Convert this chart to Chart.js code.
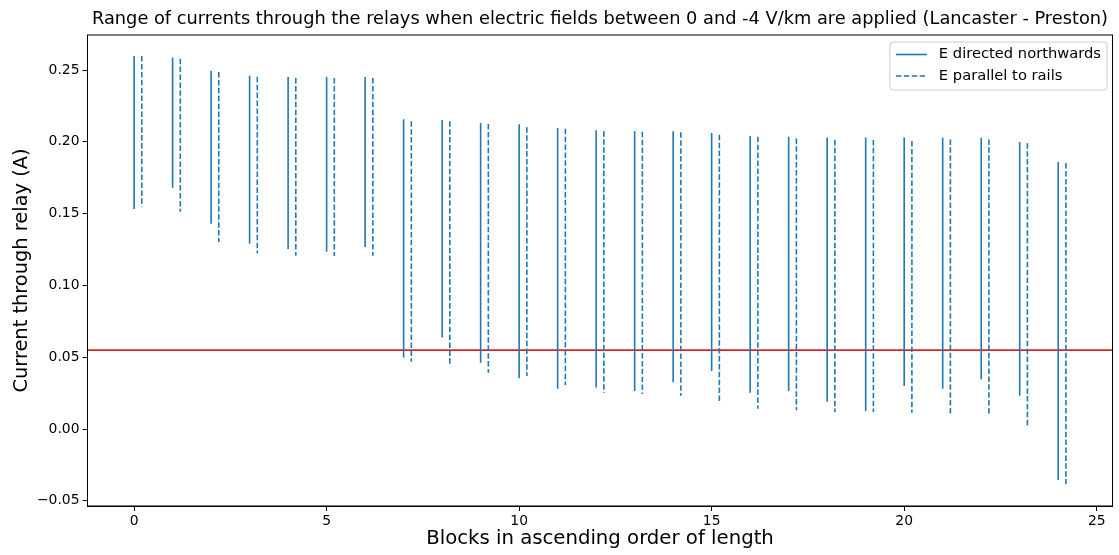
<!DOCTYPE html>
<html>
<head>
<meta charset="utf-8">
<script src="https://cdn.jsdelivr.net/npm/chart.js@4"></script>
<style>
  body { margin: 0; background: #fff; }
  canvas { display: block; }
</style>
</head>
<body>
<canvas id="relayChart" width="1119" height="555"></canvas>
<script>
// blocks sorted by length, current range (A) for each field direction
const blocks = [0, 1, 2, 3, 4, 5, 6, 7, 8, 9, 10, 11, 12, 13, 14, 15, 16, 17, 18, 19, 20, 21, 22, 23, 24];
const northHigh = [0.2597, 0.2588, 0.2495, 0.2460, 0.2451, 0.2451, 0.2451, 0.2157, 0.2152, 0.2131, 0.2122, 0.2096, 0.2080,
                   0.2075, 0.2073, 0.2061, 0.2040, 0.2035, 0.2031, 0.2031, 0.2031, 0.2029, 0.2029, 0.1999, 0.1859];
const northLow  = [0.1532, 0.1680, 0.1430, 0.1290, 0.1253, 0.1235, 0.1267, 0.0499, 0.0638, 0.0462, 0.0353, 0.0281, 0.0290,
                   0.0265, 0.0325, 0.0404, 0.0253, 0.0265, 0.0190, 0.0125, 0.0299, 0.0281, 0.0346, 0.0232, -0.0355];
const railHigh  = [0.2597, 0.2579, 0.2486, 0.2453, 0.2444, 0.2444, 0.2444, 0.2143, 0.2143, 0.2124, 0.2101, 0.2091, 0.2073,
                   0.2070, 0.2066, 0.2049, 0.2035, 0.2024, 0.2013, 0.2013, 0.2006, 0.2017, 0.2017, 0.1990, 0.1852];
const railLow   = [0.1548, 0.1513, 0.1302, 0.1223, 0.1207, 0.1205, 0.1207, 0.0469, 0.0446, 0.0392, 0.0369, 0.0306, 0.0253,
                   0.0244, 0.0232, 0.0195, 0.0141, 0.0130, 0.0118, 0.0118, 0.0114, 0.0107, 0.0100, 0.0021, -0.0385];
const railOffset = 0.2;
const threshold = 0.055;
const xTicks = [0, 5, 10, 15, 20, 25];
const yTicks = [-0.05, 0, 0.05, 0.10, 0.15, 0.20, 0.25];

const blue = '#1f77b4';
const red = '#d62728';
const font = 'DejaVu Sans';

// each block becomes a vertical segment, broken by a null point
function segments(lows, highs, offset) {
  const pts = [];
  blocks.forEach((b, i) => {
    pts.push({ x: b + offset, y: highs[i] });
    pts.push({ x: b + offset, y: lows[i] });
    pts.push({ x: b + offset, y: null });
  });
  return pts;
}

const xMin = -1.21, xMax = 25.41;

// legend box in top-right corner + full frame like matplotlib
const framePlugin = {
  id: 'frame',
  afterDraw(chart) {
    const { ctx, chartArea: a } = chart;
    ctx.save();
    ctx.strokeStyle = '#000';
    ctx.lineWidth = 1;
    ctx.strokeRect(a.left, a.top, a.right - a.left, a.bottom - a.top);

    const items = chart.data.datasets.filter(d => !d.hideLegend);
    ctx.font = '14.7px "' + font + '"';
    const textW = Math.max(...items.map(d => ctx.measureText(d.label).width));
    const w = 6 + 31 + 12 + textW + 6;
    const h = 48;
    const x = a.right - 5.5 - w;
    const y = a.top + 7;
    ctx.beginPath();
    ctx.roundRect(x, y, w, h, 3);
    ctx.fillStyle = 'rgba(255,255,255,0.8)';
    ctx.fill();
    ctx.strokeStyle = '#cccccc';
    ctx.stroke();
    items.forEach((d, i) => {
      const cy = y + 12.5 + i * 21.5;
      ctx.beginPath();
      ctx.setLineDash(d.borderDash || []);
      ctx.strokeStyle = d.borderColor;
      ctx.lineWidth = d.borderWidth;
      ctx.moveTo(x + 6, cy);
      ctx.lineTo(x + 37, cy);
      ctx.stroke();
      ctx.setLineDash([]);
      ctx.fillStyle = '#000';
      ctx.textBaseline = 'middle';
      ctx.fillText(d.label, x + 49, cy);
    });
    ctx.restore();
  }
};

const config = {
  type: 'line',
  data: {
    datasets: [
      {
        label: 'E directed northwards',
        data: segments(northLow, northHigh, 0),
        borderColor: blue,
        borderWidth: 1.6,
        pointRadius: 0,
        spanGaps: false
      },
      {
        label: 'E parallel to rails',
        data: segments(railLow, railHigh, railOffset),
        borderColor: blue,
        borderWidth: 1.6,
        borderDash: [5.5, 2.4],
        pointRadius: 0,
        spanGaps: false
      },
      {
        label: 'threshold',
        hideLegend: true,
        data: [{ x: xMin, y: threshold }, { x: xMax, y: threshold }],
        borderColor: red,
        borderWidth: 1.8,
        pointRadius: 0
      }
    ]
  },
  options: {
    responsive: false,
    animation: false,
    devicePixelRatio: 1,
    layout: { padding: { left: 0, right: 6.5, top: 0, bottom: 0 } },
    plugins: {
      legend: { display: false },
      tooltip: { enabled: false },
      title: { display: false }
    },
    scales: {
      x: {
        type: 'linear',
        min: xMin,
        max: xMax,
        afterBuildTicks: s => { s.ticks = xTicks.map(v => ({ value: v })); },
        afterFit: s => { s.height = 49; },
        ticks: {
          color: '#000',
          font: { family: font, size: 13.9 },
          padding: 2,
          maxRotation: 0,
          callback: v => String(v)
        },
        grid: { drawOnChartArea: false, tickLength: 5, tickColor: '#000' },
        border: { color: '#000' },
        title: {
          display: true,
          text: 'Blocks in ascending order of length',
          color: '#000',
          font: { family: font, size: 19.7 },
          padding: { top: 0, bottom: 4 }
        }
      },
      // top axis only carries the title, centred over the plot like matplotlib
      top: {
        type: 'linear',
        position: 'top',
        min: xMin,
        max: xMax,
        afterFit: s => { s.height = 35; },
        ticks: { display: false },
        grid: { display: false },
        border: { display: false },
        title: {
          display: true,
          text: 'Range of currents through the relays when electric fields between 0 and -4 V/km are applied (Lancaster - Preston)',
          color: '#000',
          font: { family: font, size: 17.8 },
          padding: { top: 8.3, bottom: 0 }
        }
      },
      y: {
        min: -0.0536,
        max: 0.2744,
        afterBuildTicks: s => { s.ticks = yTicks.map(v => ({ value: v })); },
        afterFit: s => { s.width = 87.5; },
        ticks: {
          color: '#000',
          font: { family: font, size: 13.9 },
          padding: 3,
          callback: v => v < 0 ? '\u2212' + Math.abs(v).toFixed(2) : v.toFixed(2)
        },
        grid: { drawOnChartArea: false, tickLength: 5, tickColor: '#000' },
        border: { color: '#000' },
        title: {
          display: true,
          text: 'Current through relay (A)',
          color: '#000',
          font: { family: font, size: 19.4 },
          padding: { top: 10.5, bottom: 0 }
        }
      }
    }
  },
  plugins: [framePlugin]
};

new Chart(document.getElementById('relayChart').getContext('2d'), config);
</script>
</body>
</html>
